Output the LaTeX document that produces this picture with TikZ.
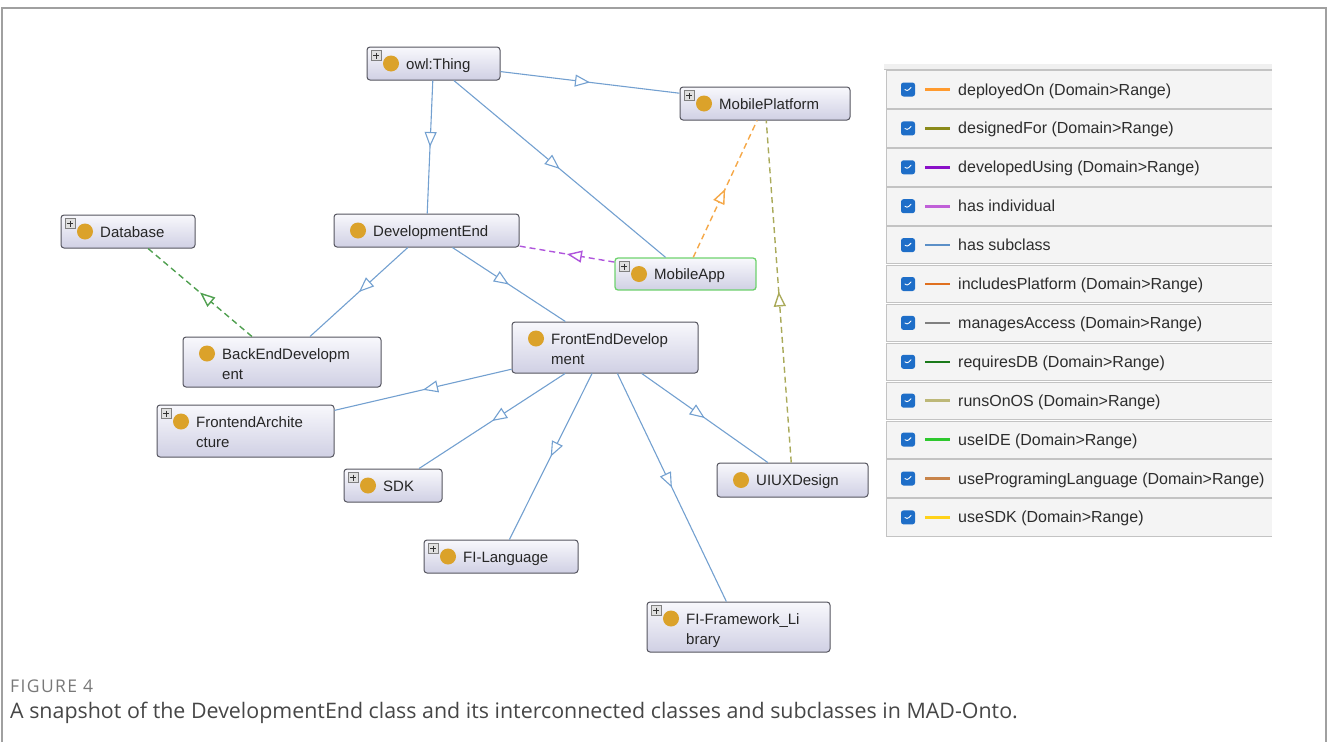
\documentclass[tikz,border=0pt]{standalone}
\usepackage{fontspec}
\setmainfont{Liberation Sans}
\newfontfamily\captionfont{Open Sans}
\newfontfamily\figlabelfont[LetterSpace=8]{Open Sans}
\usetikzlibrary{arrows.meta,decorations.markings,calc}

% palette
\definecolor{framegray}{RGB}{160,160,160}
\definecolor{boxborder}{RGB}{85,85,95}
\definecolor{boxtop}{RGB}{248,248,252}
\definecolor{boxbot}{RGB}{208,208,228}
\definecolor{appgreen}{RGB}{110,210,110}
\definecolor{gold}{RGB}{219,162,42}
\definecolor{subblue}{RGB}{115,160,208}
\definecolor{reqgreen}{RGB}{80,160,80}
\definecolor{devpurple}{RGB}{175,85,220}
\definecolor{deporange}{RGB}{245,168,72}
\definecolor{osolive}{RGB}{170,170,90}
\definecolor{rowfill}{RGB}{244,244,244}
\definecolor{rowline}{RGB}{195,195,195}
\definecolor{chkblue}{RGB}{30,110,200}
\definecolor{legtext}{RGB}{45,45,45}
\definecolor{capgray}{RGB}{120,120,120}
\definecolor{captext}{RGB}{70,70,70}
% legend line colours
\definecolor{cDeployed}{RGB}{255,154,46}
\definecolor{cDesigned}{RGB}{138,138,26}
\definecolor{cDevUsing}{RGB}{138,16,200}
\definecolor{cIndiv}{RGB}{192,96,216}
\definecolor{cSubclass}{RGB}{91,143,199}
\definecolor{cIncludes}{RGB}{224,112,31}
\definecolor{cManages}{RGB}{128,128,128}
\definecolor{cReqDB}{RGB}{26,122,26}
\definecolor{cRunsOS}{RGB}{189,184,120}
\definecolor{cIDE}{RGB}{46,200,46}
\definecolor{cProgLang}{RGB}{200,132,74}
\definecolor{cSDK}{RGB}{255,210,26}

\tikzset{
  classbox/.style={draw=boxborder, line width=1pt, rounded corners=3pt,
    top color=boxtop, bottom color=boxbot, inner sep=0pt},
  golddot/.style={circle, fill=gold, minimum size=16pt, inner sep=0pt},
  plusbox/.style={draw=gray, fill=black!12, line width=0.6pt, minimum size=10pt,
    inner sep=0pt,
    path picture={\draw[line width=1pt, black!80]
      ($(path picture bounding box.center)+(-3,0)$) -- ++(6,0)
      ($(path picture bounding box.center)+(0,-3)$) -- ++(0,6);}},
  lbl/.style={inner sep=0pt, font=\fontsize{15}{18}\selectfont, text=black!85},
  midtip/.style={postaction={decorate}, decoration={markings,
    mark=at position 0.5 with {\arrow{Triangle[fill=white,length=15pt,width=12pt]}}}},
  subclass/.style={draw=subblue, line width=1.1pt, midtip},
  relation/.style={draw=#1, line width=1.4pt, dash pattern=on 6pt off 4pt, midtip},
  legrow/.style={fill=rowfill, inner sep=0pt, minimum width=385pt, minimum height=37pt},
  chkbox/.style={fill=chkblue, rounded corners=2.5pt, minimum size=14pt, inner sep=0pt,
    path picture={\draw[white, line width=0.9pt, line cap=round, line join=round]
      ($(path picture bounding box.center)+(-3,0)$) -- ++(2,2) -- ++(4,-4);}},
  legtxt/.style={inner sep=0pt, anchor=base west, font=\fontsize{16}{19}\selectfont, text=legtext},
}

% #1 name, #2 extra box style, #3 x1, #4 y1, #5 x2, #6 y2, #7 plus marker (1/0),
% #8 first text line, #9 second text line (may be empty)
\newcommand\ontoclass[9]{%
  \node[classbox, #2, minimum width={#5-#3}, minimum height={#6-#4}]
    (#1) at ({(#3+#5)/2},{(#4+#6)/2}) {};
  \ifnum#7=1
    \node[plusbox] (#1-plus) at ({#3+9},{#4+8.5}) {};
  \fi
  \if\relax\detokenize{#9}\relax
    \node[golddot] (#1-dot) at ({#3+24},{(#4+#6)/2}) {};
    \node[lbl, anchor=base west] (#1-t1) at ({#3+39},{(#4+#6)/2+5.5}) {#8};
  \else
    \node[golddot] (#1-dot) at ({#3+24},{#4+16.5}) {};
    \node[lbl, anchor=base west] (#1-t1) at ({#3+39},{#4+22}) {#8};
    \node[lbl, anchor=base west] (#1-t2) at ({#3+39},{#4+42}) {#9};
  \fi
}

\begin{document}
\begin{tikzpicture}[x=1pt,y=-1pt]
\useasboundingbox (0,0) rectangle (1328,742);

% outer frame
\draw[framegray, line width=1.2pt] (2,742) -- (2,8) -- (1326,8) -- (1326,742);

% classes
\ontoclass{thing}{}{367}{47}{500}{80}{1}{owl:Thing}{}
\ontoclass{platform}{}{680}{87}{850}{120}{1}{MobilePlatform}{}
\ontoclass{database}{}{61}{215}{195}{248}{1}{Database}{}
\ontoclass{devend}{}{334}{214}{519}{247}{0}{DevelopmentEnd}{}
\ontoclass{mobileapp}{draw=appgreen, line width=1.3pt}{615}{258}{756}{290}{1}{MobileApp}{}
\ontoclass{backend}{}{183}{337}{381}{387}{0}{BackEndDevelopm}{ent}
\ontoclass{frontend}{}{512}{322}{698}{373}{0}{FrontEndDevelop}{ment}
\ontoclass{farch}{}{157}{405}{334}{457}{1}{FrontendArchite}{cture}
\ontoclass{sdk}{}{344}{469}{442}{502}{1}{SDK}{}
\ontoclass{uiux}{}{717}{463}{868}{497}{0}{UIUXDesign}{}
\ontoclass{fllang}{}{424}{540}{578}{573}{1}{FI-Language}{}
\ontoclass{flfw}{}{647}{602}{830}{652}{1}{FI-Framework\_Li}{brary}

% subclass links
\draw[subclass] (thing) -- (platform);
\draw[subclass] (thing) -- (devend);
\draw[subclass] (thing) -- (mobileapp);
\draw[subclass] (devend) -- (backend);
\draw[subclass] (devend) -- (frontend);
\draw[subclass] (frontend) -- (farch);
\draw[subclass] (frontend) -- (sdk);
\draw[subclass] (frontend) -- (fllang);
\draw[subclass] (frontend) -- (flfw);
\draw[subclass] (frontend) -- (uiux);

% object properties
\draw[relation=reqgreen] (backend) -- (database);
\draw[relation=devpurple] (mobileapp) -- (devend);
\draw[relation=deporange] (mobileapp) -- (platform);
\draw[relation=osolive] (uiux) -- (platform);

% legend
\fill[black!6] (884,64) rectangle (1272,69);
\draw[rowline, line width=0.8pt] (884,69) -- (1272,69);
\foreach \col/\txt [count=\i from 0] in {
  cDeployed/deployedOn (Domain>Range),
  cDesigned/designedFor (Domain>Range),
  cDevUsing/developedUsing (Domain>Range),
  cIndiv/has individual,
  cSubclass/has subclass,
  cIncludes/includesPlatform (Domain>Range),
  cManages/managesAccess (Domain>Range),
  cReqDB/requiresDB (Domain>Range),
  cRunsOS/runsOnOS (Domain>Range),
  cIDE/useIDE (Domain>Range),
  cProgLang/useProgramingLanguage (Domain>Range),
  cSDK/useSDK (Domain>Range)} {
  \pgfmathsetmacro\cy{89.5+\i*38.9}
  \node[legrow] (row\i) at (1079.5,\cy) {};
  \draw[rowline, line width=0.8pt] (row\i.north east) -- (row\i.north west)
    -- (row\i.south west) -- (row\i.south east);
  \node[chkbox] (chk\i) at (908,\cy) {};
  \coordinate (ls\i) at (925,\cy);
  \coordinate (le\i) at (950,\cy);
  \draw[\col, line width=2.6pt] (ls\i) -- (le\i);
  \node[legtxt] (leg\i) at (958,\cy+5.5) {\txt};
}

% caption
\node[anchor=base west, inner sep=0pt, text=capgray,
  font=\figlabelfont\fontsize{17.5}{19}\selectfont] (figlabel) at (10,692) {FIGURE 4};
\node[anchor=base west, inner sep=0pt, text=captext,
  font=\captionfont\fontsize{21.4}{24}\selectfont] (figcaption) at (10,718)
  {A snapshot of the DevelopmentEnd class and its interconnected classes and subclasses in MAD-Onto.};
\end{tikzpicture}
\end{document}
